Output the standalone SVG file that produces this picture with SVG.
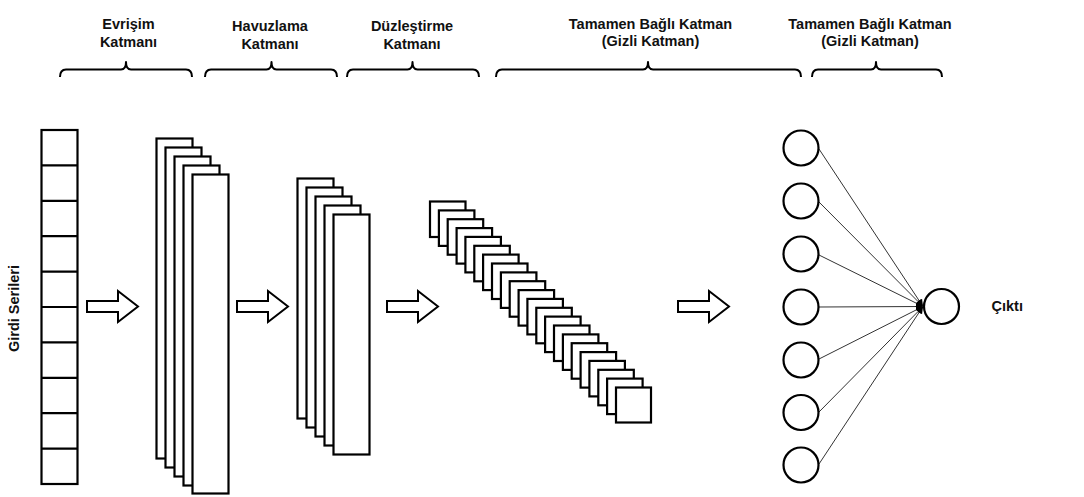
<svg xmlns="http://www.w3.org/2000/svg" xmlns:xlink="http://www.w3.org/1999/xlink" width="1084" height="497" viewBox="0 0 1084 497">
  <style>
    .lbl { font-family: "Liberation Sans", Arial, sans-serif; font-weight: bold; font-size: 14.5px; fill: #111; }
    .box { fill: #fff; stroke: #000; stroke-width: 2.2; }
    .brace { fill: none; stroke: #000; stroke-width: 2; stroke-linejoin: round; }
    .unit { fill: #fff; stroke: #000; stroke-width: 2.2; }
    .edge { stroke: #333; stroke-width: 1; fill: none; }
  </style>
  <defs>
    <path id="blockArrow" d="M0,-5.5 H31 V-15.5 L51,0 L31,15.5 V5.5 H0 Z" fill="#fff" stroke="#000" stroke-width="2" stroke-linejoin="miter"/>
    <marker id="tip" viewBox="0 0 10 10" refX="10" refY="5" markerWidth="7" markerHeight="7" markerUnits="userSpaceOnUse" orient="auto">
      <path d="M0,0 L10,5 L0,10 z" fill="#000"/>
    </marker>
  </defs>
  <rect width="1084" height="497" fill="#fff"/>

  <!-- layer titles -->
  <g id="titles">
    <text class="lbl" text-anchor="middle" x="128.5" y="28.5">Evrişim</text>
    <text class="lbl" text-anchor="middle" x="128.5" y="46.5">Katmanı</text>
    <text class="lbl" text-anchor="middle" x="270" y="30.5">Havuzlama</text>
    <text class="lbl" text-anchor="middle" x="270" y="48.5">Katmanı</text>
    <text class="lbl" text-anchor="middle" x="412" y="31">Düzleştirme</text>
    <text class="lbl" text-anchor="middle" x="412" y="49">Katmanı</text>
    <text class="lbl" text-anchor="middle" x="650.5" y="28.5">Tamamen Bağlı Katman</text>
    <text class="lbl" text-anchor="middle" x="650.5" y="46">(Gizli Katman)</text>
    <text class="lbl" text-anchor="middle" x="870" y="28.5">Tamamen Bağlı Katman</text>
    <text class="lbl" text-anchor="middle" x="870" y="46">(Gizli Katman)</text>
  </g>

  <!-- curly braces under the titles -->
  <g id="braces">
    <path class="brace" d="M60,77 Q60,69.5 66,69.5 H121 Q126,69.5 126,62 Q126,69.5 131,69.5 H186 Q192,69.5 192,77"/>
    <path class="brace" d="M205,77 Q205,69.5 211,69.5 H266.5 Q271.5,69.5 271.5,62 Q271.5,69.5 276.5,69.5 H331 Q337,69.5 337,77"/>
    <path class="brace" d="M347,77 Q347,69.5 353,69.5 H407.5 Q412.5,69.5 412.5,62 Q412.5,69.5 417.5,69.5 H473 Q479,69.5 479,77"/>
    <path class="brace" d="M496,77 Q496,69.5 502,69.5 H643 Q648,69.5 648,62 Q648,69.5 653,69.5 H795 Q801,69.5 801,77"/>
    <path class="brace" d="M812,77 Q812,69.5 818,69.5 H871 Q876,69.5 876,62 Q876,69.5 881,69.5 H936 Q942,69.5 942,77"/>
  </g>

  <!-- input series -->
  <g id="input">
    <text class="lbl" transform="translate(18.5,308.5) rotate(-90)" text-anchor="middle">Girdi Serileri</text>
    <rect class="box" x="41.5" y="130" width="36" height="354"/>
    <g stroke="#000" stroke-width="2.2">
      <line x1="41.5" y1="165.4" x2="77.5" y2="165.4"/>
      <line x1="41.5" y1="200.8" x2="77.5" y2="200.8"/>
      <line x1="41.5" y1="236.2" x2="77.5" y2="236.2"/>
      <line x1="41.5" y1="271.6" x2="77.5" y2="271.6"/>
      <line x1="41.5" y1="307" x2="77.5" y2="307"/>
      <line x1="41.5" y1="342.4" x2="77.5" y2="342.4"/>
      <line x1="41.5" y1="377.8" x2="77.5" y2="377.8"/>
      <line x1="41.5" y1="413.2" x2="77.5" y2="413.2"/>
      <line x1="41.5" y1="448.6" x2="77.5" y2="448.6"/>
    </g>
  </g>

  <!-- convolution feature maps -->
  <g id="conv">
    <rect class="box" x="156.5" y="138.5" width="36" height="320"/>
    <rect class="box" x="165.5" y="147.5" width="36" height="320"/>
    <rect class="box" x="174.5" y="156.5" width="36" height="320"/>
    <rect class="box" x="183.5" y="165.5" width="36" height="320"/>
    <rect class="box" x="192.5" y="174.5" width="36" height="319"/>
  </g>

  <!-- pooling feature maps -->
  <g id="pool">
    <rect class="box" x="297.5" y="178.5" width="36" height="240"/>
    <rect class="box" x="306.5" y="187.5" width="36" height="240"/>
    <rect class="box" x="315.5" y="196.5" width="36" height="240"/>
    <rect class="box" x="324.5" y="205.5" width="36" height="240"/>
    <rect class="box" x="333.5" y="214.5" width="36" height="240"/>
  </g>

  <!-- flattened values -->
  <g id="flatten">
    <rect class="box" x="430" y="201.5" width="35.5" height="35.5"/>
    <rect class="box" x="438.9" y="210.4" width="35.5" height="35.5"/>
    <rect class="box" x="447.7" y="219.2" width="35.5" height="35.5"/>
    <rect class="box" x="456.6" y="228.1" width="35.5" height="35.5"/>
    <rect class="box" x="465.4" y="236.9" width="35.5" height="35.5"/>
    <rect class="box" x="474.3" y="245.8" width="35.5" height="35.5"/>
    <rect class="box" x="483.1" y="254.6" width="35.5" height="35.5"/>
    <rect class="box" x="492" y="263.5" width="35.5" height="35.5"/>
    <rect class="box" x="500.9" y="272.4" width="35.5" height="35.5"/>
    <rect class="box" x="509.7" y="281.2" width="35.5" height="35.5"/>
    <rect class="box" x="518.6" y="290.1" width="35.5" height="35.5"/>
    <rect class="box" x="527.4" y="298.9" width="35.5" height="35.5"/>
    <rect class="box" x="536.3" y="307.8" width="35.5" height="35.5"/>
    <rect class="box" x="545.1" y="316.6" width="35.5" height="35.5"/>
    <rect class="box" x="554" y="325.5" width="35.5" height="35.5"/>
    <rect class="box" x="562.9" y="334.4" width="35.5" height="35.5"/>
    <rect class="box" x="571.7" y="343.2" width="35.5" height="35.5"/>
    <rect class="box" x="580.6" y="352.1" width="35.5" height="35.5"/>
    <rect class="box" x="589.4" y="360.9" width="35.5" height="35.5"/>
    <rect class="box" x="598.3" y="369.8" width="35.5" height="35.5"/>
    <rect class="box" x="607.1" y="378.6" width="35.5" height="35.5"/>
    <rect class="box" x="616" y="387.5" width="35" height="35"/>
  </g>

  <!-- flow arrows between stages -->
  <g id="flow">
    <use xlink:href="#blockArrow" x="87" y="306.5"/>
    <use xlink:href="#blockArrow" x="237" y="306.5"/>
    <use xlink:href="#blockArrow" x="387" y="306.5"/>
    <use xlink:href="#blockArrow" x="678" y="306.5"/>
  </g>

  <!-- connections from hidden units to the output -->
  <g id="connectors">
    <line class="edge" x1="819" y1="149" x2="923" y2="306.5" marker-end="url(#tip)"/>
    <line class="edge" x1="819" y1="202" x2="923" y2="306.5" marker-end="url(#tip)"/>
    <line class="edge" x1="819" y1="255" x2="923" y2="306.5" marker-end="url(#tip)"/>
    <line class="edge" x1="819" y1="307" x2="923" y2="306.5" marker-end="url(#tip)"/>
    <line class="edge" x1="819" y1="359" x2="923" y2="306.5" marker-end="url(#tip)"/>
    <line class="edge" x1="819" y1="412" x2="923" y2="306.5" marker-end="url(#tip)"/>
    <line class="edge" x1="819" y1="464" x2="923" y2="306.5" marker-end="url(#tip)"/>
  </g>

  <!-- hidden layer units -->
  <g id="hidden">
    <circle class="unit" cx="801" cy="148" r="17.5"/>
    <circle class="unit" cx="801" cy="201" r="17.5"/>
    <circle class="unit" cx="801" cy="254" r="17.5"/>
    <circle class="unit" cx="801" cy="307" r="17.5"/>
    <circle class="unit" cx="801" cy="360" r="17.5"/>
    <circle class="unit" cx="801" cy="412.5" r="17.5"/>
    <circle class="unit" cx="801" cy="465" r="17.5"/>
  </g>

  <!-- output unit -->
  <g id="output">
    <circle class="unit" cx="941.5" cy="306.5" r="17.5"/>
    <text class="lbl" x="991.5" y="310.5">Çıktı</text>
  </g>
</svg>
